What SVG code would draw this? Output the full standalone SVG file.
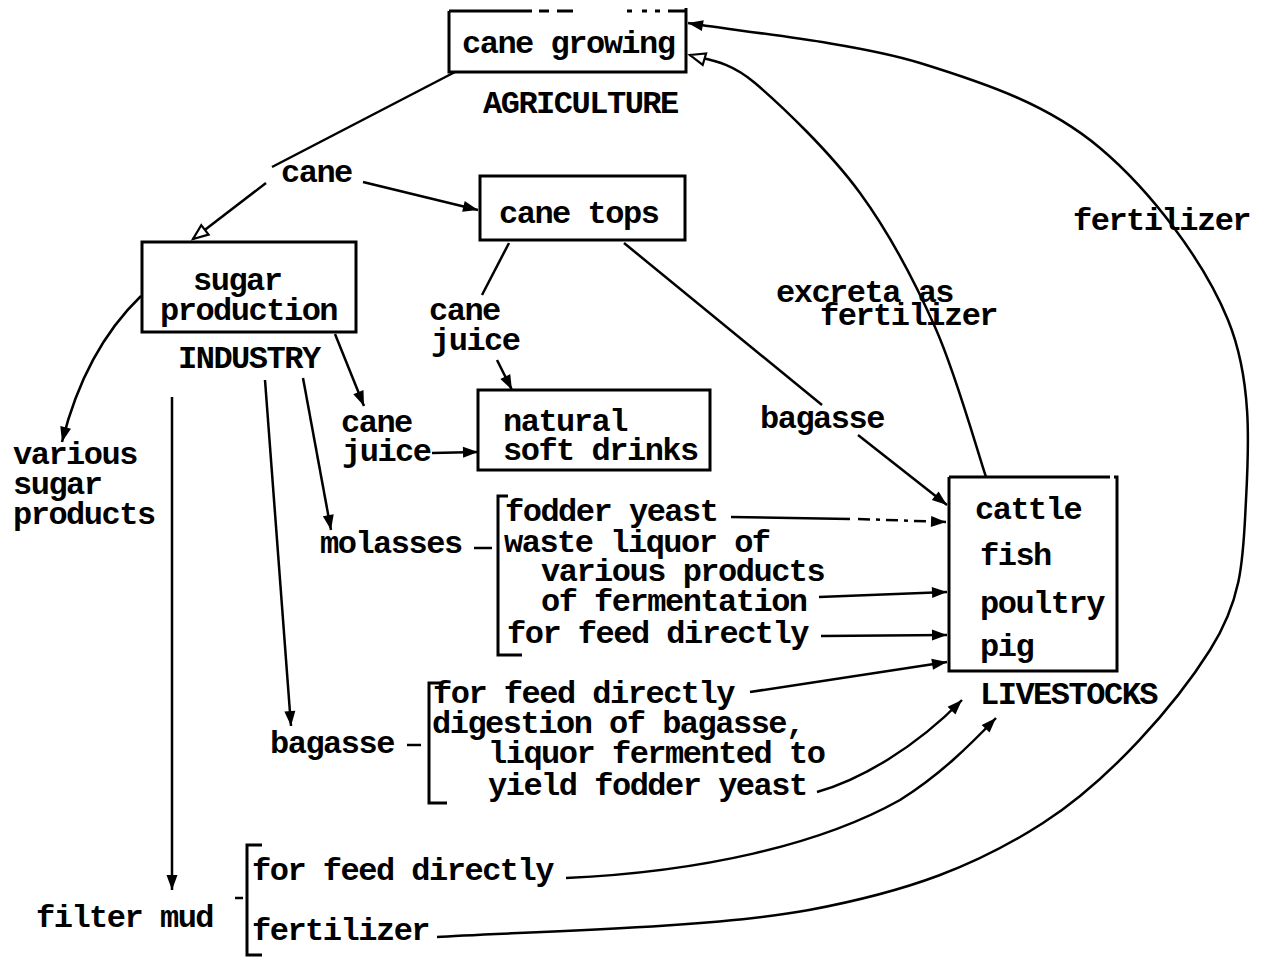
<svg xmlns="http://www.w3.org/2000/svg" width="1268" height="958" viewBox="0 0 1268 958">
<style>
.t{font-family:"Liberation Mono","DejaVu Sans Mono",monospace;font-weight:bold;font-size:32px;letter-spacing:-1.5px;fill:#000}
.box{fill:none;stroke:#000;stroke-width:3}
.ln{fill:none;stroke:#000;stroke-width:2.5}
.f{marker-end:url(#af)}
.h{marker-end:url(#ah)}
</style>
<defs>
<marker id="af" markerUnits="userSpaceOnUse" markerWidth="16" markerHeight="12" refX="15" refY="6" orient="auto" overflow="visible"><path d="M0,0.5 L15,6 L0,11.5 z" fill="#000"/></marker>
<marker id="ah" markerUnits="userSpaceOnUse" markerWidth="18" markerHeight="14" refX="16" refY="7" orient="auto" overflow="visible"><path d="M1,1 L16,7 L1,13 z" fill="#fff" stroke="#000" stroke-width="2.2"/></marker>
</defs>
<rect width="1268" height="958" fill="#fff"/>

<g id="connectors">
<path class="ln" d="M455,72 L272,167"/>
<path class="ln h" d="M266,183 L193,239"/>
<path class="ln f" d="M363,182 L478,210"/>
<path class="ln" d="M509,243 L482,295"/>
<path class="ln f" d="M497,360 L512,390"/>
<path class="ln f" d="M335,334 L364,406"/>
<path class="ln f" d="M432,453 L478,452"/>
<path class="ln f" d="M141,296 Q85,350 62,442"/>
<path class="ln f" d="M303,378 L331,530"/>
<path class="ln f" d="M265,380 L291,726"/>
<path class="ln f" d="M172,397 L172,890"/>
<path class="ln" d="M624,243 L822,405"/>
<path class="ln f" d="M858,435 L947,505"/>
<path class="ln h" d="M986,477 C977.5,452 956,374 935,327 C914,280 890,234 860,193 C830,152 782,106 755,83 C728,60 707,60 690,55"/>
<path class="ln f" d="M437,937 C499,932.5 708,929 809,910 C910,891 976,866 1043,823 C1110,780 1176,704 1210,650 C1244,596 1243,555 1246,500 C1249,445 1252,379 1228,320 C1204,261 1151,191 1100,148 C1049,105 988,84 920,63 C852,42 728,30 688,23"/>
<path class="ln" d="M731,517 L850,519"/>
<path class="ln f" d="M858,519 L946,522" stroke-dasharray="12 6 4 6"/>
<path class="ln f" d="M819,597 L947,592"/>
<path class="ln f" d="M821,636 L947,635"/>
<path class="ln f" d="M750,692 L947,662"/>
<path class="ln f" d="M817,792 C860,780 915,748 962,700"/>
<path class="ln f" d="M566,878 C700,872 820,845 900,800 C940,775 970,745 996,718"/>
<path class="ln" d="M474,548 H492"/>
<path class="ln" d="M407,745 H421"/>
<path class="ln" d="M235,898 H243"/>
</g>

<g id="cane-growing">
<path class="box" d="M449,11 V72 H686 V8"/>
<path class="box" d="M449,11 H532 M539,11 H549 M557,11 H573 M627,11 H632 M642,11 H647 M655,11 H660 M668,11 H686"/>
<text class="t" x="462" y="53">cane growing</text>
<text class="t" x="483" y="113">AGRICULTURE</text>
</g>

<g id="cane"><text class="t" x="281" y="182">cane</text></g>

<g id="cane-tops">
<rect class="box" x="480" y="176" width="205" height="64"/>
<text class="t" x="499" y="223">cane tops</text>
</g>

<g id="sugar-production">
<rect class="box" x="142" y="242" width="214" height="90"/>
<text class="t" x="193" y="290">sugar</text>
<text class="t" x="160" y="320">production</text>
<text class="t" x="178" y="368">INDUSTRY</text>
</g>

<g id="cane-juice-1">
<text class="t" x="429" y="320">cane</text>
<text class="t" x="431" y="350">juice</text>
</g>

<g id="natural-soft-drinks">
<rect class="box" x="478" y="390" width="232" height="80"/>
<text class="t" x="503" y="431">natural</text>
<text class="t" x="503" y="460">soft drinks</text>
</g>

<g id="cane-juice-2">
<text class="t" x="341" y="432">cane</text>
<text class="t" x="342" y="461">juice</text>
</g>

<g id="various-sugar-products">
<text class="t" x="13" y="464">various</text>
<text class="t" x="13" y="494">sugar</text>
<text class="t" x="13" y="524">products</text>
</g>

<g id="bagasse-label"><text class="t" x="760" y="428">bagasse</text></g>

<g id="excreta-label">
<text class="t" x="776" y="302">excreta as</text>
<text class="t" x="820" y="325">fertilizer</text>
</g>

<g id="fertilizer-label"><text class="t" x="1073" y="230">fertilizer</text></g>

<g id="livestocks">
<path class="box" d="M949,477 H1110 M1114,477 H1117 V671 H949 V477"/>
<text class="t" x="975" y="519">cattle</text>
<text class="t" x="980" y="565">fish</text>
<text class="t" x="980" y="613">poultry</text>
<text class="t" x="980" y="656">pig</text>
<text class="t" x="980" y="704">LIVESTOCKS</text>
</g>

<g id="molasses">
<text class="t" x="320" y="553">molasses</text>
<path class="box" d="M508,496 H498 V655 H522"/>
<text class="t" x="505" y="521">fodder yeast</text>
<text class="t" x="504" y="552">waste liquor of</text>
<text class="t" x="541" y="581">various products</text>
<text class="t" x="541" y="611">of fermentation</text>
<text class="t" x="507" y="643">for feed directly</text>
</g>

<g id="bagasse">
<text class="t" x="270" y="753">bagasse</text>
<path class="box" d="M440,683 H429 V803 H447"/>
<text class="t" x="433" y="703">for feed directly</text>
<text class="t" x="432" y="733">digestion of bagasse,</text>
<text class="t" x="488" y="763">liquor fermented to</text>
<text class="t" x="488" y="795">yield fodder yeast</text>
</g>

<g id="filter-mud">
<text class="t" x="36" y="927">filter mud</text>
<path class="box" d="M262,845 H247 V955 H262"/>
<text class="t" x="252" y="880">for feed directly</text>
<text class="t" x="252" y="940">fertilizer</text>
</g>
</svg>
